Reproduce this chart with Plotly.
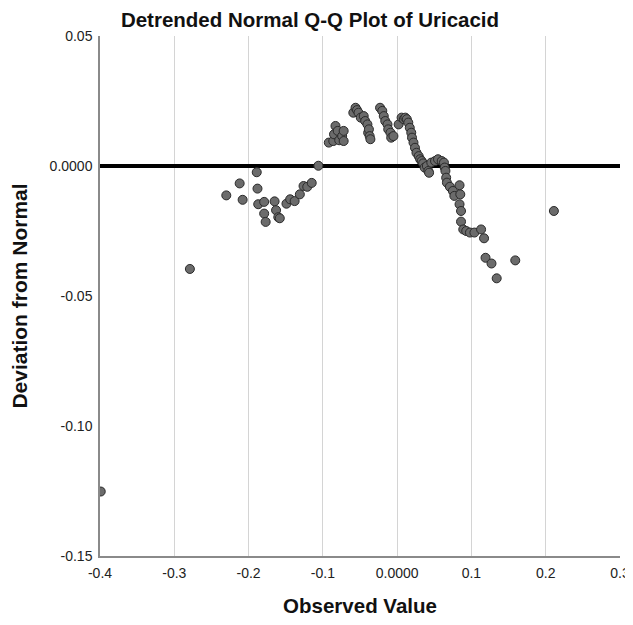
import plotly.graph_objects as go

# Observed value (x) and deviation from normal (y)
observed = [
    -0.399, -0.279,
    -0.230, -0.212, -0.208, -0.189, -0.188, -0.187, -0.179, -0.179, -0.177,
    -0.165, -0.163, -0.160, -0.158, -0.149, -0.144, -0.138, -0.131, -0.126,
    -0.121, -0.115, -0.106,
    -0.092, -0.086, -0.085, -0.083, -0.080, -0.078, -0.074, -0.072, -0.072,
    -0.059, -0.056, -0.054, -0.052, -0.049, -0.045, -0.043, -0.040, -0.039,
    -0.038, -0.037, -0.036,
    -0.023, -0.020, -0.018, -0.016, -0.013, -0.012, -0.009, -0.008, -0.005,
    0.002, 0.006, 0.009, 0.011, 0.013, 0.015, 0.017, 0.019, 0.020, 0.022,
    0.024, 0.026, 0.029, 0.031, 0.033, 0.035, 0.037, 0.040, 0.042, 0.043,
    0.046, 0.051, 0.055, 0.060, 0.063, 0.064, 0.065, 0.066, 0.067, 0.071,
    0.075, 0.077, 0.084, 0.085, 0.084, 0.086, 0.086, 0.089, 0.093, 0.098,
    0.104, 0.113, 0.117, 0.119, 0.127, 0.134, 0.159, 0.211,
]
deviation = [
    -0.1252, -0.0396,
    -0.0113, -0.0067, -0.0130, -0.0024, -0.0087, -0.0147, -0.0138, -0.0183, -0.0215,
    -0.0136, -0.0170, -0.0197, -0.0201, -0.0145, -0.0128, -0.0135, -0.0109, -0.0077,
    -0.0080, -0.0065, 0.0001,
    0.0090, 0.0096, 0.0122, 0.0154, 0.0135, 0.0099, 0.0115, 0.0135, 0.0096,
    0.0205, 0.0224, 0.0215, 0.0205, 0.0186, 0.0192, 0.0173, 0.0160, 0.0128,
    0.0141, 0.0115, 0.0103,
    0.0224, 0.0212, 0.0192, 0.0173, 0.0160, 0.0141, 0.0128, 0.0109, 0.0115,
    0.0160, 0.0186, 0.0180, 0.0186, 0.0180, 0.0167, 0.0147, 0.0128, 0.0109, 0.0090,
    0.0070, 0.0051, 0.0038, 0.0026, 0.0019, 0.0010, -0.0006, 0.0000, -0.0019, -0.0026,
    0.0013, 0.0019, 0.0026, 0.0019, 0.0013, -0.0006, -0.0019, -0.0045, -0.0064, -0.0080,
    -0.0096, -0.0115, -0.0074, -0.0109, -0.0147, -0.0173, -0.0214, -0.0244, -0.0250, -0.0256,
    -0.0256, -0.0244, -0.0278, -0.0353, -0.0375, -0.0432, -0.0363, -0.0173,
]

x_tickvals = [-0.4, -0.3, -0.2, -0.1, 0.0, 0.1, 0.2, 0.3]
x_ticktext = ["-0.4", "-0.3", "-0.2", "-0.1", "0.0000", "0.1", "0.2", "0.3"]
y_tickvals = [0.05, 0.0, -0.05, -0.10, -0.15]
y_ticktext = ["0.05", "0.0000", "-0.05", "-0.10", "-0.15"]

FONT = "Liberation Sans, Arial, sans-serif"

# Page body adds an 8px offset, so the figure is sized to fit inside the window.
W, H = 625, 609

fig = go.Figure()
fig.add_trace(go.Scatter(
    x=observed, y=deviation, mode="markers",
    marker=dict(size=9, color="#6b6b6b", line=dict(color="#2a2a2a", width=1)),
    showlegend=False,
))

fig.update_layout(
    width=W, height=H,
    margin=dict(l=92, r=13, t=28, b=61),
    paper_bgcolor="white", plot_bgcolor="white",
    font=dict(family=FONT, color="#222222"),
    title=dict(text="<b>Detrended Normal Q-Q Plot of Uricacid</b>",
               font=dict(size=20.5, family=FONT, color="#111111"),
               x=302 / W, xanchor="center", y=1 - 11.5 / H, yanchor="middle",
               xref="container", yref="container"),
    xaxis=dict(
        range=[-0.4, 0.3], tickvals=x_tickvals, ticktext=x_ticktext,
        showgrid=True, gridcolor="#d4d4d4", gridwidth=1,
        showline=True, linecolor="#8a8a8a", linewidth=1.5,
        zeroline=False, ticks="", tickfont=dict(size=14, color="#222222"),
        ticklabelstandoff=3, ticklabeloverflow="allow",
        automargin=False,
        title=dict(text="<b>Observed Value</b>", font=dict(size=20.5, color="#111111"),
                   standoff=24),
    ),
    yaxis=dict(
        range=[-0.15, 0.05], tickvals=y_tickvals, ticktext=y_ticktext,
        showgrid=False,
        showline=True, linecolor="#8a8a8a", linewidth=1.5,
        zeroline=True, zerolinecolor="black", zerolinewidth=3.5,
        ticks="", tickfont=dict(size=14, color="#222222"),
        ticklabelstandoff=3, ticklabeloverflow="allow",
        automargin=False,
        title=dict(text="<b>Deviation from Normal</b>", font=dict(size=21, color="#111111"),
                   standoff=16),
    ),
)

fig.write_html("out.html")
